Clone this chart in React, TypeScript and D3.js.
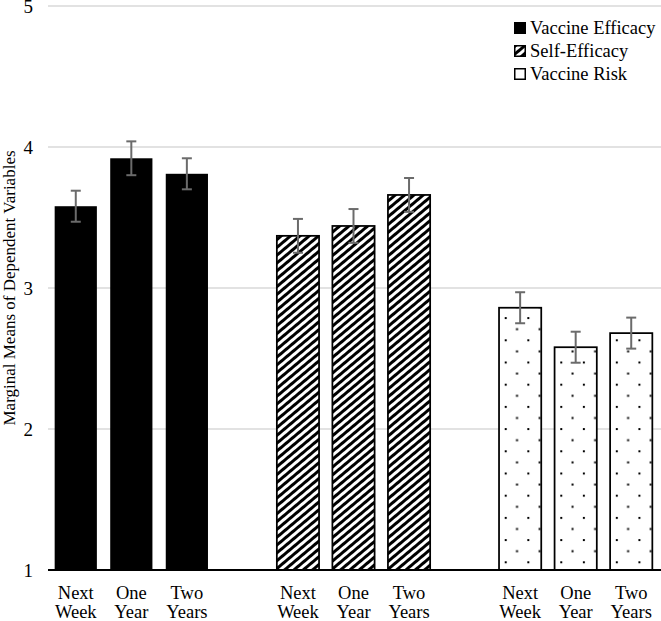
import React from "react";
import * as d3 from "d3";

const categories = ["Next Week", "One Year", "Two Years"];
const seriesNames = ["Vaccine Efficacy", "Self-Efficacy", "Vaccine Risk"];
const vaccineEfficacy = [3.58, 3.92, 3.81];
const vaccineEfficacyErr = [0.11, 0.12, 0.11];
const selfEfficacy = [3.37, 3.44, 3.66];
const selfEfficacyErr = [0.12, 0.12, 0.12];
const vaccineRisk = [2.86, 2.58, 2.68];
const vaccineRiskErr = [0.11, 0.11, 0.11];
const yTicks = [1, 2, 3, 4, 5];
const yTitle = "Marginal Means of Dependent Variables";

const W = 661;
const H = 621;
const left = 48;
const right = 659;
const top = 6;
const bottom = 570;
const FONT = "Liberation Serif, DejaVu Serif, Times New Roman, serif";

export default function App() {
  const seriesVals = [vaccineEfficacy, selfEfficacy, vaccineRisk];
  const seriesErrs = [vaccineEfficacyErr, selfEfficacyErr, vaccineRiskErr];
  const slots = d3.range(11);
  const x = d3.scaleBand<number>().domain(slots).range([left, right]).paddingInner(0.24).paddingOuter(0.12);
  const y = d3.scaleLinear().domain([1, 5]).range([bottom, top]);

  const bars: any[] = [];
  seriesVals.forEach((vals, s) => {
    vals.forEach((v, c) => {
      const slot = s * 4 + c;
      bars.push({ s, c, v, e: seriesErrs[s][c], x0: x(slot)!, w: x.bandwidth(), cat: categories[c] });
    });
  });

  const fillFor = (b: any, i: number) => (b.s === 0 ? "#000" : b.s === 1 ? "url(#hatch)" : `url(#dots${i})`);
  const textStyle = { fontFamily: FONT };

  return (
    <svg width={W} height={H} style={{ position: "absolute", left: 0, top: 0, background: "#fff", fontFamily: FONT }}>
      <defs>
        <pattern id="hatch" patternUnits="userSpaceOnUse" width={6} height={6} patternTransform="rotate(50)">
          <rect x={0} y={0} width={6} height={6} fill="#fff" />
          <rect x={0} y={0} width={3} height={6} fill="#000" />
        </pattern>
        {bars.map((b, i) =>
          b.s === 2 ? (
            <pattern key={i} id={`dots${i}`} patternUnits="userSpaceOnUse" width={22.6} height={22.2} x={b.x0 + 5.7} y={561.3}>
              <rect x={0} y={0} width={22.6} height={22.2} fill="#fff" />
              <rect x={0} y={0} width={2} height={2} fill="#000" />
              <rect x={11.3} y={11.1} width={2} height={2} fill="#000" />
            </pattern>
          ) : null
        )}
      </defs>
      <rect x={0} y={0} width={W} height={H} fill="#fff" />
      {yTicks.map((t) => (
        <g key={t}>
          {t > 1 && <line x1={left} x2={W} y1={y(t)} y2={y(t)} stroke="#d9d9d9" strokeWidth={1.5} />}
          <text x={33} y={y(t)} dy="0.35em" textAnchor="end" fontSize={19} fill="#000" style={textStyle}>
            {t}
          </text>
        </g>
      ))}
      <text transform={`translate(15,${(top + bottom) / 2}) rotate(-90)`} textAnchor="middle" fontSize={17} fill="#000" style={textStyle}>
        {yTitle}
      </text>
      {bars.map((b, i) => (
        <rect
          key={i}
          x={b.x0}
          y={y(b.v)}
          width={b.w}
          height={bottom - y(b.v)}
          fill={fillFor(b, i)}
          stroke={b.s === 0 ? "none" : "#000"}
          strokeWidth={1.75}
        />
      ))}
      {bars.map((b, i) => {
        const cx = b.x0 + b.w / 2;
        return (
          <g key={i} stroke="#6b6b6b" strokeWidth={2}>
            <line x1={cx} x2={cx} y1={y(b.v + b.e)} y2={y(b.v - b.e)} />
            <line x1={cx - 5} x2={cx + 5} y1={y(b.v + b.e)} y2={y(b.v + b.e)} />
            <line x1={cx - 5} x2={cx + 5} y1={y(b.v - b.e)} y2={y(b.v - b.e)} />
          </g>
        );
      })}
      <line x1={left} x2={W} y1={bottom} y2={bottom} stroke="#000" strokeWidth={2} />
      {bars.map((b, i) => {
        const cx = b.x0 + b.w / 2;
        const parts = b.cat.split(" ");
        return (
          <text key={i} x={cx} textAnchor="middle" fontSize={18.5} fill="#000" style={textStyle}>
            <tspan x={cx} y={599}>{parts[0]}</tspan>
            <tspan x={cx} y={618}>{parts[1]}</tspan>
          </text>
        );
      })}
      {seriesNames.map((n, i) => (
        <g key={n} transform={`translate(514,${22 + i * 23})`}>
          <rect
            x={0.75}
            y={0.75}
            width={10.5}
            height={10.5}
            fill={i === 0 ? "#000" : i === 1 ? "url(#hatch)" : "#fff"}
            stroke="#000"
            strokeWidth={1.5}
          />
          <text x={16} y={6} dy="0.35em" fontSize={18.5} fill="#000" style={textStyle}>
            {n}
          </text>
        </g>
      ))}
    </svg>
  );
}
